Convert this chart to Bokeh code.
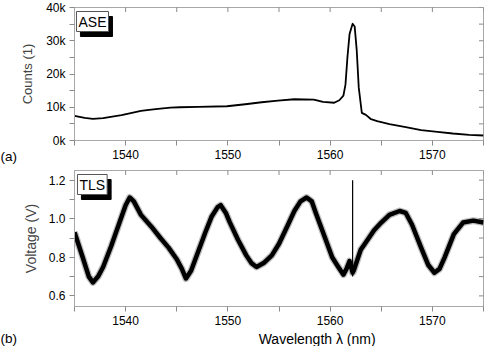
import math
from bokeh.plotting import figure
from bokeh.layouts import column, row
from bokeh.models import FixedTicker, Label, Range1d
from bokeh.embed import file_html
from bokeh.resources import INLINE
from bokeh.core.properties import value

# ---------------- data ----------------
ase_wavelength = [1535.0, 1536.0, 1536.8, 1537.8, 1538.7, 1539.6, 1540.5, 1541.5, 1542.5,
                  1543.4, 1544.4, 1545.3, 1547.1, 1549.9, 1551.7, 1553.3, 1554.9, 1556.5,
                  1558.4, 1559.3, 1560.4, 1560.9, 1561.3, 1561.5, 1561.7, 1561.9, 1562.2,
                  1562.4, 1562.6, 1562.8, 1563.1, 1563.5, 1564.0, 1564.6, 1565.8, 1567.4,
                  1568.9, 1570.5, 1572.0, 1573.6, 1575.0]
ase_counts = [7400, 6800, 6500, 6700, 7200, 7600, 8200, 8900, 9300,
              9600, 9900, 10000, 10100, 10300, 10900, 11500, 12000, 12400,
              12300, 11600, 11350, 12100, 13500, 16800, 25300, 32000, 35100,
              34300, 27200, 15900, 8300, 7700, 6400, 5800, 4900, 4000,
              3100, 2600, 2100, 1700, 1500]

tls_wavelength = [1535.0, 1535.8, 1536.4, 1536.8, 1537.3, 1537.8, 1538.6, 1539.4, 1540.0,
                  1540.4, 1540.8, 1541.5, 1542.5, 1543.4, 1544.2, 1545.0, 1545.5, 1545.9,
                  1546.4, 1547.1, 1547.8, 1548.4, 1549.0, 1549.3, 1549.8, 1550.2, 1551.0,
                  1551.8, 1552.3, 1552.8, 1553.5, 1554.3, 1555.0, 1555.8, 1556.5, 1557.1,
                  1557.7, 1558.2, 1558.6, 1559.3, 1560.2, 1560.8, 1561.3, 1561.6, 1561.9,
                  1562.2, 1562.3, 1563.0, 1563.4, 1564.3, 1565.0, 1565.8, 1566.8, 1567.4,
                  1568.0, 1568.9, 1569.6, 1570.2, 1570.7, 1571.2, 1572.1, 1573.0, 1574.0,
                  1575.0]
tls_voltage = [0.93, 0.80, 0.70, 0.67, 0.70, 0.75, 0.86, 0.98, 1.07,
               1.11, 1.09, 1.02, 0.96, 0.90, 0.85, 0.79, 0.74, 0.69,
               0.73, 0.83, 0.93, 1.01, 1.06, 1.07, 1.03, 0.98, 0.89,
               0.81, 0.77, 0.75, 0.77, 0.81, 0.87, 0.96, 1.04, 1.09,
               1.11, 1.09, 1.03, 0.93, 0.80, 0.75, 0.71, 0.74, 0.78,
               0.72, 0.73, 0.84, 0.87, 0.94, 0.98, 1.02, 1.04, 1.03,
               0.97, 0.85, 0.76, 0.72, 0.74, 0.80, 0.92, 0.98, 0.99,
               0.98]

spike_wavelength = [1562.2]
spike_low = [0.70]
spike_high = [1.20]

x_ticks = [1540, 1550, 1560, 1570]
x_minor_ticks = [1535, 1545, 1555, 1565, 1575]
counts_ticks = [0, 10000, 20000, 30000, 40000]
counts_tick_labels = ["0k", "10k", "20k", "30k", "40k"]
counts_minor_ticks = [5000, 15000, 25000, 35000]
volt_ticks = [0.6, 0.8, 1.0, 1.2]
volt_tick_labels = ["0.6", "0.8", "1.0", "1.2"]
volt_minor_ticks = [0.7, 0.9, 1.1]

panel_tags = ["(a)", "(b)"]
x_title = "Wavelength \u03bb (nm)"

# ---------------- styling / layout ----------------
FONT = "Liberation Sans"
FRAME = "#a8a8a8"
TICK = "#8a8a8a"
STRIP_W = 17                 # left strip holding the (a)/(b) tags
MAIN_W = 484 - STRIP_W       # width of the plot column
TOP_H, BOT_H, XT_H = 164, 166, 16
TOTAL_H = TOP_H + BOT_H + XT_H
ML, MR = 53, 1
TOP_MT, TOP_MB = 7, 24
BOT_MT, BOT_MB = 6, 24
X0, X1 = 1535, 1575
Y0_TOP, Y1_TOP = 0, 40000
Y0_BOT, Y1_BOT = 0.545, 1.25

frame_w = MAIN_W - ML - MR
dx = (X1 - X0) / frame_w
dy_top = (Y1_TOP - Y0_TOP) / (TOP_H - TOP_MT - TOP_MB)
dy_bot = (Y1_BOT - Y0_BOT) / (BOT_H - BOT_MT - BOT_MB)

shared_x = Range1d(X0, X1)


def make_fig(h, mt, mb, y0, y1):
    p = figure(width=MAIN_W, height=h, x_range=shared_x, y_range=Range1d(y0, y1),
               output_backend="svg", toolbar_location=None,
               min_border_left=ML, min_border_right=MR,
               min_border_top=mt, min_border_bottom=mb)
    p.xgrid.visible = False
    p.ygrid.visible = False
    p.outline_line_color = FRAME
    p.outline_line_width = 1
    p.background_fill_color = "white"
    p.border_fill_color = "white"
    return p


def make_strip(w, h, xr, yr):
    s = figure(width=w, height=h, x_range=xr, y_range=yr,
               output_backend="svg", toolbar_location=None,
               x_axis_type=None, y_axis_type=None,
               min_border=0, min_border_left=0, min_border_right=0,
               min_border_top=0, min_border_bottom=0)
    s.outline_line_color = None
    s.xgrid.visible = False
    s.ygrid.visible = False
    return s


def style_axis(ax, ticks, minor, overrides):
    ax.ticker = FixedTicker(ticks=ticks, minor_ticks=minor)
    ax.axis_line_color = FRAME
    ax.major_tick_line_color = TICK
    ax.minor_tick_line_color = TICK
    ax.major_tick_out = 5
    ax.major_tick_in = 0
    ax.minor_tick_out = 5
    ax.minor_tick_in = 0
    ax.major_label_text_font = FONT
    ax.major_label_text_font_size = "12px"
    ax.major_label_text_color = "black"
    ax.major_label_standoff = 4
    if overrides is not None:
        ax.major_label_overrides = overrides


def inner_ticks(p, xt, yt, y_top, x_right):
    # inward tick marks on the top and right frame edges (half of each dash is clipped)
    p.scatter(x=xt, y=[y_top] * len(xt), marker="dash", size=9, angle=math.pi / 2,
              line_color=TICK, line_width=1)
    p.scatter(x=[x_right] * len(yt), y=yt, marker="dash", size=9,
              line_color=TICK, line_width=1)


def add_box_label(p, text, x, y, dyp):
    shadow = Label(x=x + 4 * dx, y=y - 5 * dyp, text=text, anchor="top_left",
                   text_font=FONT, text_font_size="14px", text_color="black",
                   background_fill_color="black", border_line_color="black",
                   padding=2)
    box = Label(x=x, y=y, text=text, anchor="top_left",
                text_font=FONT, text_font_size="14px", text_color="black",
                background_fill_color="white", border_line_color="#555555",
                border_line_width=1, padding=2)
    p.add_layout(shadow)
    p.add_layout(box)


# ---------- top panel (ASE) ----------
p1 = make_fig(TOP_H, TOP_MT, TOP_MB, Y0_TOP, Y1_TOP)
style_axis(p1.xaxis[0], x_ticks, x_minor_ticks, None)
style_axis(p1.yaxis[0], counts_ticks, counts_minor_ticks,
           dict(zip(counts_ticks, counts_tick_labels)))
p1.yaxis[0].axis_label = "Counts (1)"
p1.yaxis[0].axis_label_text_font = FONT
p1.yaxis[0].axis_label_text_font_size = "13px"
p1.yaxis[0].axis_label_text_font_style = "normal"
p1.yaxis[0].axis_label_standoff = 8
inner_ticks(p1, x_ticks + x_minor_ticks, counts_ticks + counts_minor_ticks, Y1_TOP, X1)

p1.line(ase_wavelength, ase_counts, line_color="black", line_width=1.8, line_join="round")
add_box_label(p1, "ASE", X0 + 2 * dx, Y1_TOP - 4 * dy_top, dy_top)

# ---------- bottom panel (TLS) ----------
p2 = make_fig(BOT_H, BOT_MT, BOT_MB, Y0_BOT, Y1_BOT)
style_axis(p2.xaxis[0], x_ticks, x_minor_ticks, None)
style_axis(p2.yaxis[0], volt_ticks, volt_minor_ticks,
           dict(zip(volt_ticks, volt_tick_labels)))
p2.yaxis[0].axis_label = "Voltage (V)"
p2.yaxis[0].axis_label_text_font = FONT
p2.yaxis[0].axis_label_text_font_size = "14px"
p2.yaxis[0].axis_label_text_font_style = "normal"
p2.yaxis[0].axis_label_standoff = 7
inner_ticks(p2, x_ticks + x_minor_ticks, volt_ticks + volt_minor_ticks, Y1_BOT, X1)

p2.line(tls_wavelength, tls_voltage, line_color="#444444", line_alpha=0.35,
        line_width=7, line_join="round")
p2.line(tls_wavelength, tls_voltage, line_color="black", line_width=4.5, line_join="round")
p2.segment(x0=spike_wavelength, y0=spike_low, x1=spike_wavelength, y1=spike_high,
           line_color="black", line_width=1.2)
add_box_label(p2, "TLS", X0 + 3 * dx, Y1_BOT - 4 * dy_bot, dy_bot)

# ---------- x-axis title strip ----------
xt = make_strip(MAIN_W, XT_H, Range1d(X0 - ML * dx, X1 + MR * dx), Range1d(0, XT_H))
xt.text(x=[1556.7], y=[XT_H / 2], text=[x_title], text_font=value(FONT),
        text_font_size="14px", text_color="black", text_align="center",
        text_baseline="middle")

# ---------- left strip with panel tags ----------
tag = make_strip(STRIP_W, TOTAL_H, Range1d(0, STRIP_W), Range1d(0, TOTAL_H))
tag_y = [TOTAL_H - (TOP_H - TOP_MB + 16), XT_H / 2]   # level with tick labels / x title
tag.text(x=[0, 0], y=tag_y, text=panel_tags, text_font=value(FONT),
         text_font_size="13.5px", text_color="black", text_align="left",
         text_baseline="middle")

layout = row(tag, column(p1, p2, xt, spacing=0), spacing=0)
open("out.html", "w").write(file_html(layout, INLINE))
